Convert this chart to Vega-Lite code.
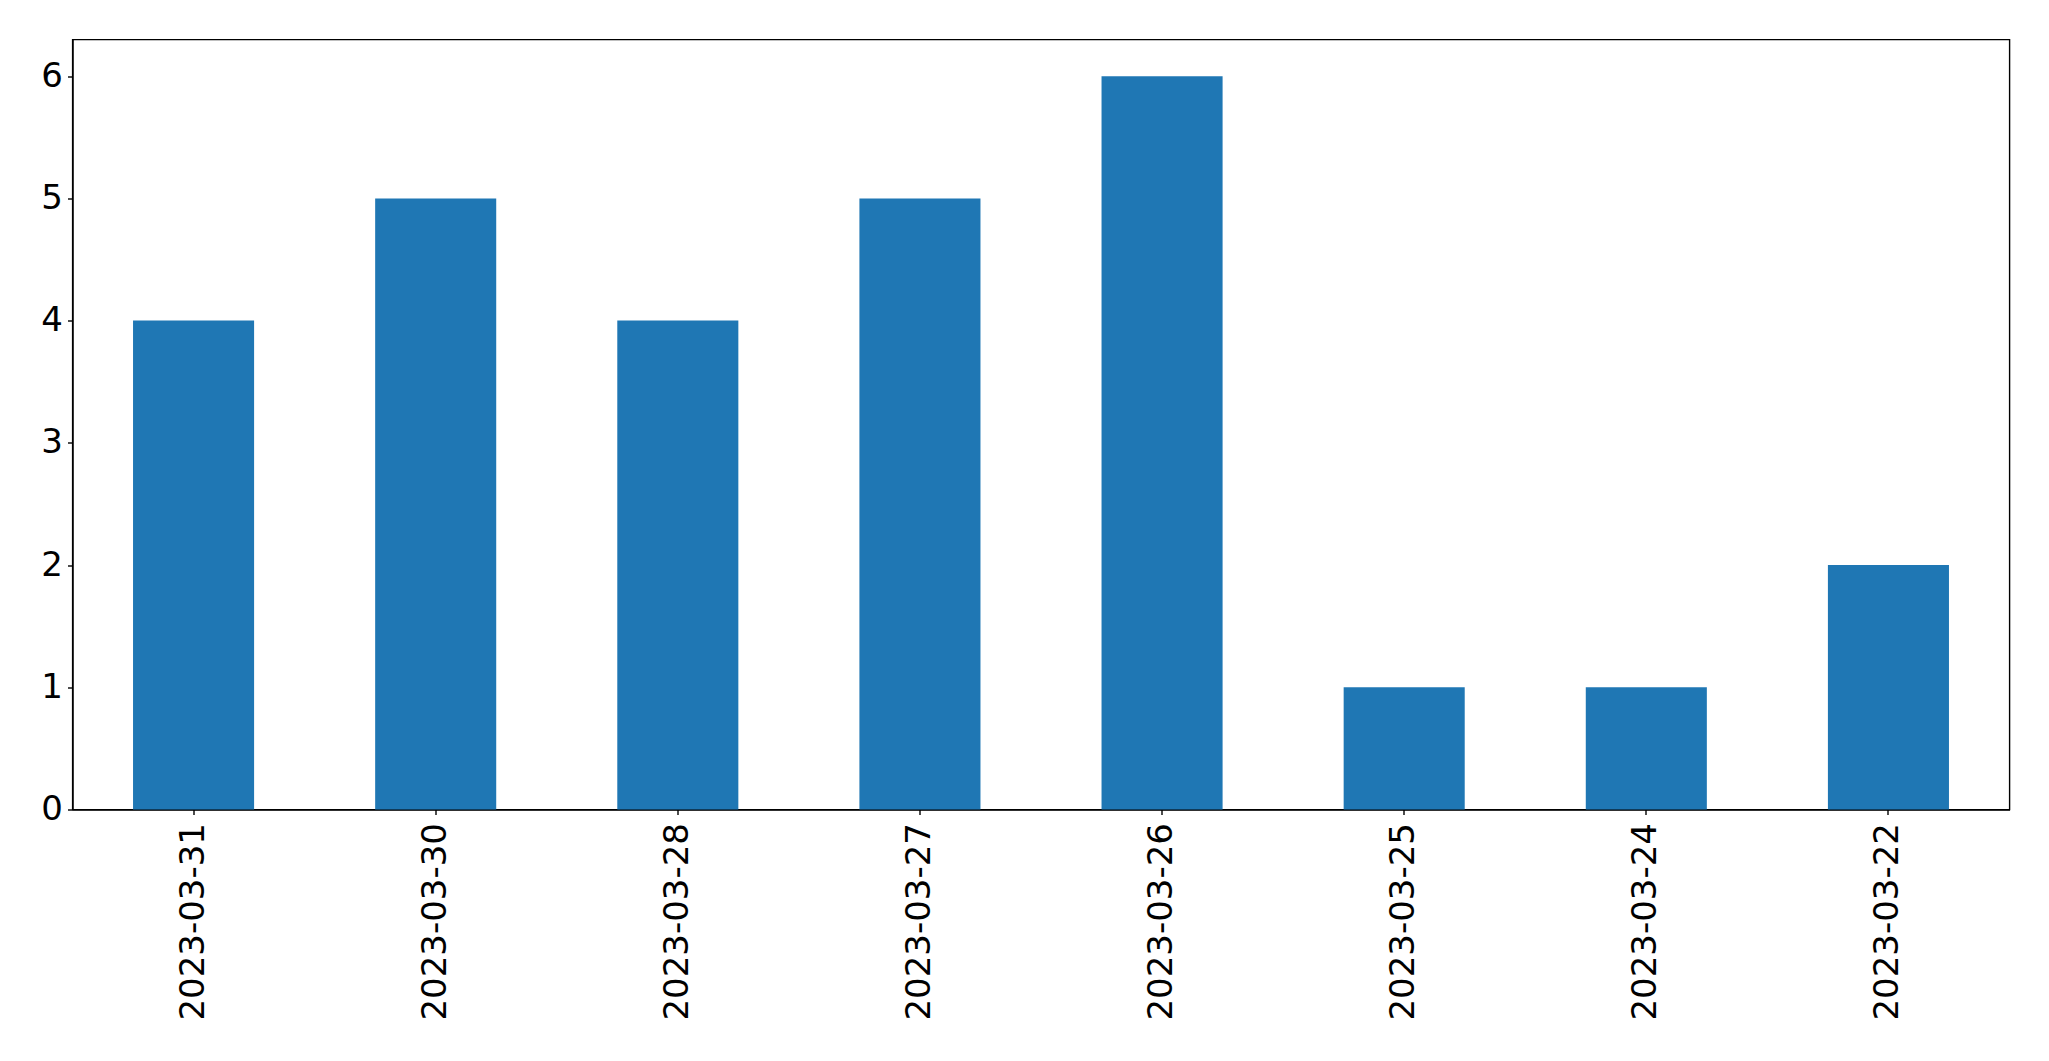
{
  "$schema": "https://vega.github.io/schema/vega-lite/v6.json",
  "autosize": "none",
  "width": 1937,
  "height": 770,
  "padding": {"left": 72.5, "top": 39.5, "right": 39, "bottom": 252},
  "background": "white",
  "config": {
    "view": {"stroke": "black", "strokeWidth": 1.4},
    "axis": {
      "labelFont": "DejaVu Sans",
      "labelFontSize": 34,
      "labelColor": "black",
      "labelLimit": 0,
      "domainColor": "black",
      "domainWidth": 1.4,
      "tickColor": "black",
      "tickWidth": 1.4,
      "tickSize": 5,
      "grid": false,
      "title": null
    }
  },
  "data": {
    "values": [
      {"date": "2023-03-31", "count": 4},
      {"date": "2023-03-30", "count": 5},
      {"date": "2023-03-28", "count": 4},
      {"date": "2023-03-27", "count": 5},
      {"date": "2023-03-26", "count": 6},
      {"date": "2023-03-25", "count": 1},
      {"date": "2023-03-24", "count": 1},
      {"date": "2023-03-22", "count": 2}
    ]
  },
  "mark": {"type": "bar", "color": "#1f77b4"},
  "encoding": {
    "x": {
      "field": "date",
      "type": "nominal",
      "sort": null,
      "scale": {"paddingInner": 0.5, "paddingOuter": 0.25},
      "axis": {"labelAngle": 270, "labelAlign": "right", "labelBaseline": "middle", "labelPadding": 8}
    },
    "y": {
      "field": "count",
      "type": "quantitative",
      "scale": {"domain": [0, 6.3], "nice": false},
      "axis": {"values": [0, 1, 2, 3, 4, 5, 6], "labelPadding": 5, "format": "d"}
    }
  }
}
